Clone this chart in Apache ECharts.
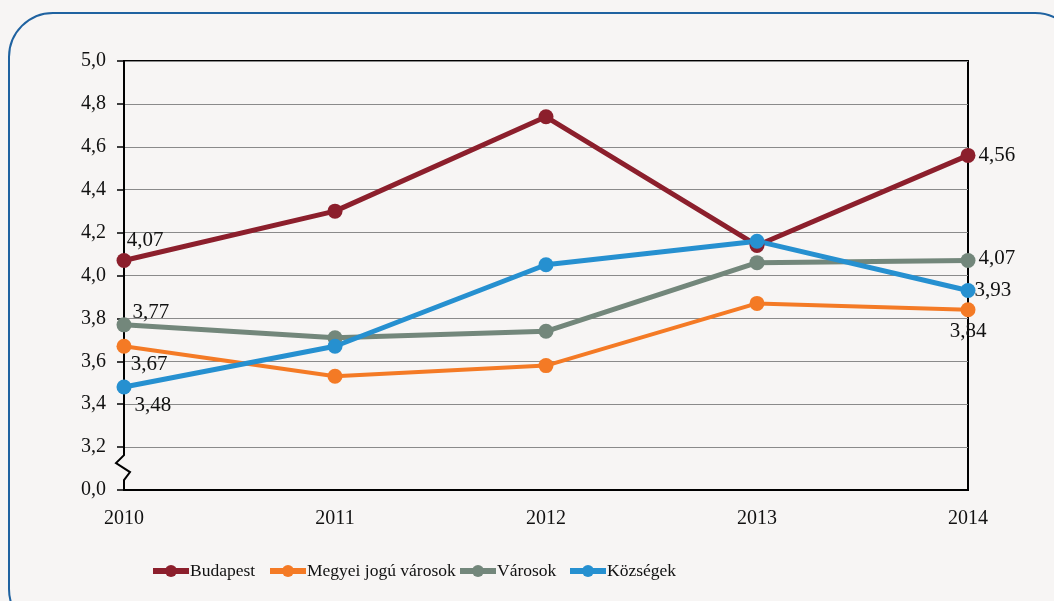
<!DOCTYPE html>
<html>
<head>
<meta charset="utf-8">
<script src="https://cdn.jsdelivr.net/npm/echarts@6/dist/echarts.min.js"></script>
<style>
  html, body { margin: 0; padding: 0; background: #f7f5f4; }
  #main { width: 1054px; height: 601px; }
</style>
</head>
<body>
<div id="main"></div>
<script>
var years = ['2010', '2011', '2012', '2013', '2014'];
var budapest = [4.07, 4.30, 4.74, 4.14, 4.56];
var megyei = [3.67, 3.53, 3.58, 3.87, 3.84];
var varosok = [3.77, 3.71, 3.74, 4.06, 4.07];
var kozsegek = [3.48, 3.67, 4.05, 4.16, 3.93];
var seriesNames = ['Budapest', 'Megyei jogú városok', 'Városok', 'Községek'];
var yTicks = [3.0, 3.2, 3.4, 3.6, 3.8, 4.0, 4.2, 4.4, 4.6, 4.8, 5.0];

var font = 'Liberation Serif';
function comma(v) { return v.toFixed(2).replace('.', ','); }

// címkék helye az első és utolsó pontnál
function withLabels(vals, first, last) {
  return vals.map(function (v, i) {
    var lab = null;
    if (i === 0) lab = first;
    if (i === vals.length - 1) lab = last;
    if (!lab) return v;
    return { value: v, label: Object.assign({ show: true, formatter: comma(v) }, lab) };
  });
}

function line(name, color, width, data) {
  return {
    name: name,
    type: 'line',
    data: data,
    symbol: 'circle',
    symbolSize: 15,
    lineStyle: { color: color, width: width },
    itemStyle: { color: color },
    label: { show: false, color: '#111', fontFamily: font, fontSize: 21 },
    emphasis: { disabled: true },
    z: 3
  };
}

// jelmagyarázat elemenként, a kép szerinti helyen
var legendLeft = [145, 262, 452, 562];
var legends = seriesNames.map(function (n, i) {
  return {
    top: 557,
    left: legendLeft[i],
    itemWidth: 36,
    itemHeight: 15,
    lineStyle: { width: 6 },
    textStyle: { fontFamily: font, fontSize: 17.5, color: '#111', padding: [0, 0, 0, -4] },
    data: [n]
  };
});

var myChart = echarts.init(document.getElementById('main'));

var option = {
  backgroundColor: '#f7f5f4',
  animation: false,
  grid: { left: 124, right: 86, top: 61, bottom: 111, show: true, borderColor: '#000', borderWidth: 2 },
  legend: legends,
  xAxis: {
    type: 'category',
    data: years,
    boundaryGap: false,
    axisLine: { lineStyle: { color: '#000', width: 2 } },
    axisTick: { show: false },
    axisLabel: { fontFamily: font, fontSize: 20, color: '#111', margin: 19 }
  },
  yAxis: {
    type: 'value',
    min: yTicks[0],
    max: yTicks[yTicks.length - 1],
    interval: 0.2,
    axisLine: { show: true, lineStyle: { color: '#000', width: 2 } },
    axisTick: { show: true, length: 7, lineStyle: { color: '#000', width: 1.5 } },
    splitLine: { lineStyle: { color: '#8a8a8a', width: 1 } },
    axisLabel: {
      fontFamily: font, fontSize: 20, color: '#111', margin: 18,
      formatter: function (v) { return v <= 3.0001 ? '0,0' : v.toFixed(1).replace('.', ','); }
    }
  },
  series: [
    line(seriesNames[0], '#8c1f2c', 5, withLabels(budapest,
      { position: 'top', offset: [21, 3] }, { position: 'right', offset: [-2, 0] })),
    line(seriesNames[1], '#f47a25', 4, withLabels(megyei,
      { position: 'bottom', offset: [25, -5] }, { position: 'bottom', offset: [0, -1] })),
    line(seriesNames[2], '#73877b', 5, withLabels(varosok,
      { position: 'right', offset: [-4, -12] }, { position: 'right', offset: [-2, -2] })),
    line(seriesNames[3], '#2690d0', 5, withLabels(kozsegek,
      { position: 'right', offset: [-2, 18] }, { position: 'right', offset: [-6, 0] }))
  ]
};

myChart.setOption(option);

// tengelytörés jel és keret
var x0 = myChart.convertToPixel({ xAxisIndex: 0 }, 0);
var yA = myChart.convertToPixel({ yAxisIndex: 0 }, 3.2);
var yB = myChart.convertToPixel({ yAxisIndex: 0 }, 3.0);
myChart.setOption({
  graphic: [
    {
      type: 'rect', z: 100,
      shape: { x: x0 - 4, y: yA + 5, width: 8, height: yB - yA - 12 },
      style: { fill: '#f7f5f4' }
    },
    {
      type: 'polyline', z: 101,
      shape: { points: [[x0, yA + 4], [x0, yA + 8], [x0 - 8, yA + 16], [x0 + 6, yA + 25], [x0, yA + 33], [x0, yB - 5]] },
      style: { stroke: '#000', lineWidth: 2, fill: null }
    },
    {
      type: 'rect', z: 0,
      shape: { x: 9, y: 13, width: 1070, height: 620, r: 44 },
      style: { fill: null, stroke: '#1f62a0', lineWidth: 2 }
    }
  ]
});
</script>
</body>
</html>
